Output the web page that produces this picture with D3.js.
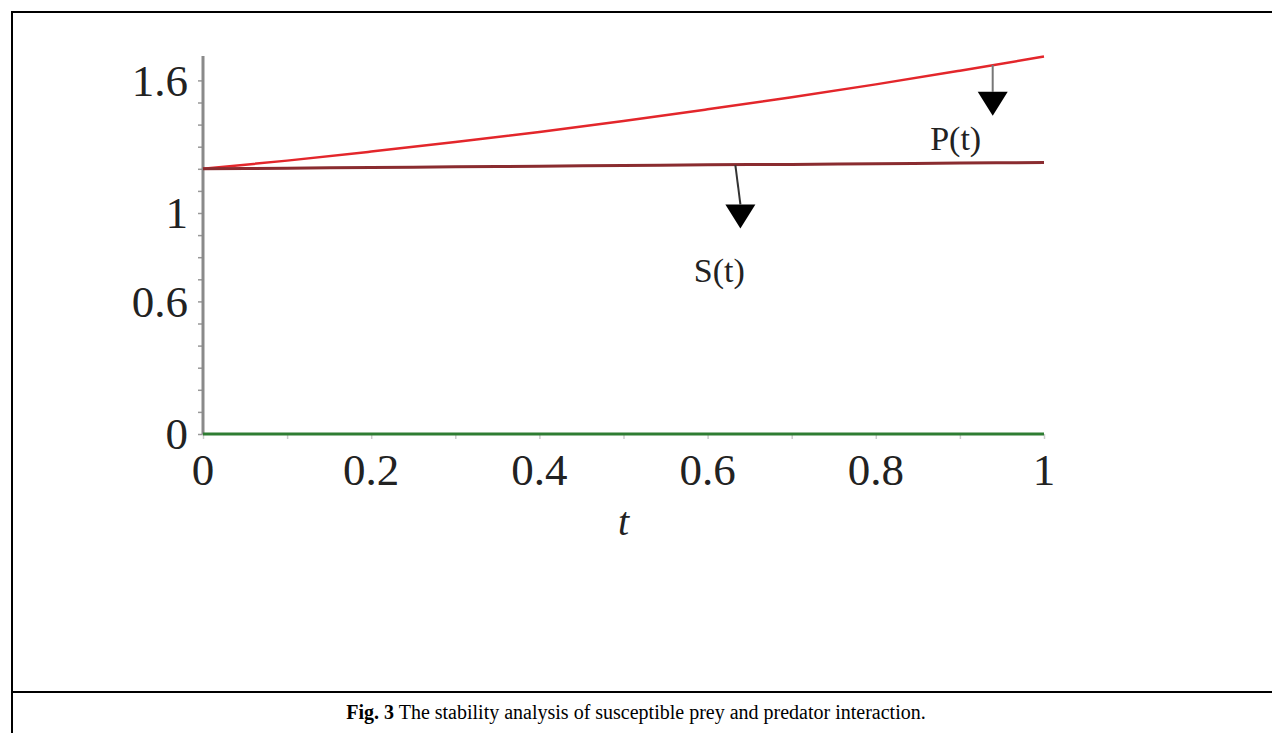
<!DOCTYPE html>
<html>
<head>
<meta charset="utf-8">
<script src="https://cdn.jsdelivr.net/npm/d3@7"></script>
<style>
  body { margin: 0; background: #fff; }
  svg text { font-family: "Liberation Serif", "Times New Roman", serif; fill: #222; }
</style>
</head>
<body>
<div id="chart"></div>
<script>
// values
const tValues = [0, 0.1, 0.2, 0.3, 0.4, 0.5, 0.6, 0.7, 0.8, 0.9, 1];
const pValues = [1.2, 1.237, 1.278, 1.321, 1.367, 1.416, 1.469, 1.524, 1.582, 1.644, 1.708];
const sValues = [1.2, 1.203, 1.206, 1.209, 1.212, 1.215, 1.218, 1.220, 1.223, 1.226, 1.228];
const zeroValues = [0, 0, 0, 0, 0, 0, 0, 0, 0, 0, 0];

const xTickLabels = [0, 0.2, 0.4, 0.6, 0.8, 1];
const yTickLabels = [0, 0.6, 1, 1.6];

// annotation arrows (data units)
const arrowS = {t0: 0.633, t1: 0.639, from: 1.217, to: 0.93, label: "S(t)", lt: 0.614, lv: 0.688};
const arrowP = {t0: 0.939, t1: 0.939, from: 1.67, to: 1.44, label: "P(t)", lt: 0.895, lv: 1.283};

const caption = "The stability analysis of susceptible prey and predator interaction.";

const W = 1272, H = 733;
const serif = "'Liberation Serif', 'Times New Roman', serif";
const svg = d3.select("#chart").append("svg")
    .attr("width", W)
    .attr("height", H);

// frame
svg.append("line").attr("x1", 12).attr("x2", 12).attr("y1", 11).attr("y2", H)
    .attr("stroke", "#000").attr("stroke-width", 2);
svg.append("line").attr("x1", 11).attr("x2", W).attr("y1", 12).attr("y2", 12)
    .attr("stroke", "#000").attr("stroke-width", 2);
svg.append("line").attr("x1", 11).attr("x2", W).attr("y1", 692).attr("y2", 692)
    .attr("stroke", "#000").attr("stroke-width", 2);

const x = d3.scaleLinear().domain([0, 1]).range([203, 1044]);
const y = d3.scaleLinear().domain([0, 1]).range([434, 213]);

// y axis: minor ticks every 0.1
const yAxis = d3.axisLeft(y)
    .tickValues(d3.range(0, 17).map(i => i / 10))
    .tickSize(5)
    .tickFormat("");
const gy = svg.append("g").attr("transform", `translate(${x(0)},0)`).call(yAxis);
gy.select(".domain").remove();
gy.selectAll(".tick line").attr("stroke", "#999").attr("stroke-width", 1.5);

svg.append("line")
    .attr("x1", x(0)).attr("x2", x(0))
    .attr("y1", y(0)).attr("y2", y(1.71))
    .attr("stroke", "#8a8a8a").attr("stroke-width", 3);

svg.selectAll(".ylab").data(yTickLabels).enter().append("text")
    .attr("class", "ylab")
    .attr("x", x(0) - 15)
    .attr("y", d => y(d))
    .attr("dy", "0.34em")
    .attr("text-anchor", "end")
    .style("font-size", "45px")
    .text(d => d);

// x axis: minor ticks every 0.1
const xAxis = d3.axisBottom(x)
    .tickValues(d3.range(0, 11).map(i => i / 10))
    .tickSize(5)
    .tickFormat("");
const gx = svg.append("g").attr("transform", `translate(0,${y(0)})`).call(xAxis);
gx.select(".domain").remove();
gx.selectAll(".tick line").attr("stroke", "#ccc").attr("stroke-width", 1.5);

svg.selectAll(".xlab").data(xTickLabels).enter().append("text")
    .attr("class", "xlab")
    .attr("x", d => x(d))
    .attr("y", 485)
    .attr("text-anchor", "middle")
    .style("font-size", "45px")
    .text(d => d);

svg.append("text")
    .attr("x", x(0.5))
    .attr("y", 535)
    .attr("text-anchor", "middle")
    .style("font-size", "40px")
    .style("font-style", "italic")
    .text("t");

// curves
const line = d3.line()
    .x((d, i) => x(tValues[i]))
    .y(d => y(d))
    .curve(d3.curveMonotoneX);

svg.append("path").datum(zeroValues)
    .attr("d", line).attr("fill", "none")
    .attr("stroke", "#2e7d32").attr("stroke-width", 3);
svg.append("path").datum(pValues)
    .attr("d", line).attr("fill", "none")
    .attr("stroke", "#e3262b").attr("stroke-width", 2.5);
svg.append("path").datum(sValues)
    .attr("d", line).attr("fill", "none")
    .attr("stroke", "#8a2c30").attr("stroke-width", 3);

// arrows + labels
function drawArrow(a, shaftColor) {
    const xa = x(a.t0), xb = x(a.t1), y0 = y(a.from), y1 = y(a.to);
    const headH = 24, headW = 15;
    svg.append("line")
        .attr("x1", xa).attr("x2", xb)
        .attr("y1", y0).attr("y2", y1 - headH)
        .attr("stroke", shaftColor).attr("stroke-width", 2);
    svg.append("path")
        .attr("d", `M${xb - headW},${y1 - headH} L${xb + headW},${y1 - headH} L${xb},${y1} Z`)
        .attr("fill", "#000");
    svg.append("text")
        .attr("x", x(a.lt))
        .attr("y", y(a.lv))
        .attr("text-anchor", "middle")
        .style("font-family", serif)
        .style("font-size", "34px")
        .text(a.label);
}
drawArrow(arrowS, "#333");
drawArrow(arrowP, "#777");

// caption
const cap = svg.append("text")
    .attr("x", W / 2)
    .attr("y", 719)
    .attr("text-anchor", "middle")
    .style("font-family", serif)
    .style("font-size", "20px")
    .style("fill", "#000");
cap.append("tspan").style("font-weight", "bold").text("Fig. 3");
cap.append("tspan").text(" " + caption);
</script>
</body>
</html>
